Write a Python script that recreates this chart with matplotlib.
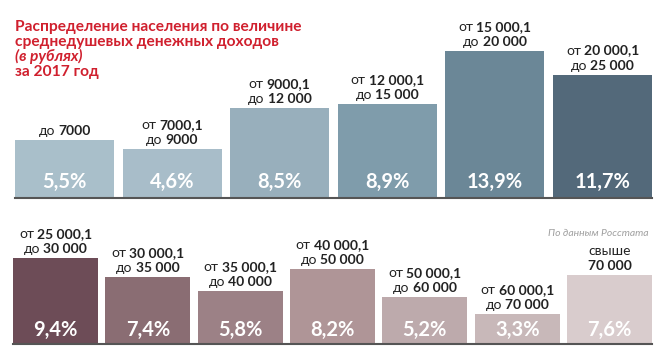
import matplotlib
matplotlib.use("Agg")
import matplotlib.pyplot as plt

plt.rcParams['font.family'] = ['Lato', 'DejaVu Sans']

# top row: income groups up to 25 000 roubles
top_vals = [5.5, 4.6, 8.5, 8.9, 13.9, 11.7]
top_pct = ["5,5%", "4,6%", "8,5%", "8,9%", "13,9%", "11,7%"]
top_labels = [
    [("до", "7000")],
    [("от", "7000,1"), ("до", "9000")],
    [("от", "9000,1"), ("до", "12 000")],
    [("от", "12 000,1"), ("до", "15 000")],
    [("от", "15 000,1"), ("до", "20 000")],
    [("от", "20 000,1"), ("до", "25 000")],
]
top_colors = ["#a9bfca", "#a8bdc9", "#98afbc", "#7f9cab", "#6b8797", "#53697a"]

# bottom row: income groups above 25 000 roubles
bot_vals = [9.4, 7.4, 5.8, 8.2, 5.2, 3.3, 7.6]
bot_pct = ["9,4%", "7,4%", "5,8%", "8,2%", "5,2%", "3,3%", "7,6%"]
bot_labels = [
    [("от", "25 000,1"), ("до", "30 000")],
    [("от", "30 000,1"), ("до", "35 000")],
    [("от", "35 000,1"), ("до", "40 000")],
    [("от", "40 000,1"), ("до", "50 000")],
    [("от", "50 000,1"), ("до", "60 000")],
    [("от", "60 000,1"), ("до", "70 000")],
    [("свыше", ""), ("", "70 000")],
]
bot_colors = ["#6d4c57", "#8a6d73", "#9c8186", "#af9597", "#bdaaac", "#c8b8b9", "#d9cccd"]

title_lines = [
    ("Распределение населения по величине", "normal"),
    ("среднедушевых денежных доходов", "normal"),
    ("(в рублях)", "italic"),
    ("за 2017 год", "normal"),
]
source = "По данным Росстата"

W, H = 668, 359
fig = plt.figure(figsize=(W / 100, H / 100), dpi=100)
renderer = fig.canvas.get_renderer()


def mixed_line(ax, x, y, dy, prefix, number, size=10):
    """Draw 'prefix number' centred at x, prefix regular and number bold."""
    parts = []
    if prefix:
        parts.append(ax.annotate(prefix, (x, y), xytext=(0, dy), textcoords="offset pixels",
                                 ha="left", va="baseline", fontsize=size, color="#222222"))
    if number:
        parts.append(ax.annotate(number, (x, y), xytext=(0, dy), textcoords="offset pixels",
                                 ha="left", va="baseline", fontsize=size, fontweight="bold",
                                 color="#222222"))
    gap = 3
    widths = [p.get_window_extent(renderer).width for p in parts]
    total = sum(widths) + gap * (len(parts) - 1)
    pos = -total / 2
    for p, w in zip(parts, widths):
        p.xyann = (pos, dy)
        pos += w + gap


def draw_row(rect, vals, pcts, labels, colors, ymax, pct_dy):
    ax = fig.add_axes(rect)
    xs = range(len(vals))
    ax.bar(xs, vals, width=0.92, color=colors)
    ax.set_xlim(-0.46, len(vals) - 0.54)
    ax.set_ylim(0, ymax)
    ax.axhline(0, color="#555555", lw=1.5, clip_on=False)
    ax.axis("off")
    for x, v, p, lab in zip(xs, vals, pcts, labels):
        ax.annotate(p, (x, 0), xytext=(0, pct_dy), textcoords="offset pixels",
                    ha="center", va="baseline", fontsize=14.5, fontweight="bold", color="white")
        n = len(lab)
        for i, (pre, num) in enumerate(lab):
            dy = 5 + (n - 1 - i) * 15
            mixed_line(ax, x, v, dy, pre, num)
    return ax


draw_row([15 / W, (H - 198) / H, 637 / W, 198 / H], top_vals, top_pct, top_labels,
         top_colors, 198 / 10.55, 10)
draw_row([13 / W, (H - 344) / H, 639 / W, 129 / H], bot_vals, bot_pct, bot_labels,
         bot_colors, 129 / 9.1, 8)

for i, (line, style) in enumerate(title_lines):
    fig.text(15 / W, 1 - (31 + 15 * i) / H, line, ha="left", va="baseline",
             fontsize=11.2, fontweight="bold", fontstyle=style, color="#d0202e")

fig.text(648 / W, 1 - 236 / H, source, ha="right", va="baseline",
         fontsize=7.5, fontstyle="italic", color="#a0a0a0")

fig.savefig("out.png", dpi=100, facecolor="white")
